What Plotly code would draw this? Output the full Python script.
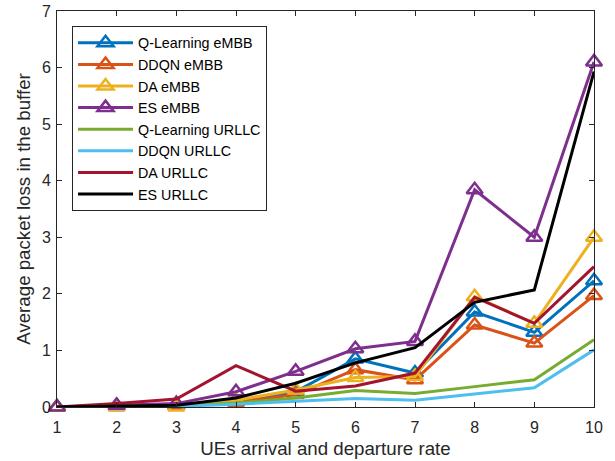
import plotly.graph_objects as go

x_vals = [1, 2, 3, 4, 5, 6, 7, 8, 9, 10]

q_embb = [0, 0.01, 0.02, 0.10, 0.27, 0.85, 0.60, 1.68, 1.32, 2.23]
ddqn_embb = [0, 0.01, 0.02, 0.08, 0.22, 0.66, 0.48, 1.45, 1.13, 1.97]
da_embb = [0, 0.01, 0.00, 0.12, 0.30, 0.52, 0.54, 1.95, 1.48, 3.00]
es_embb = [0, 0.03, 0.06, 0.27, 0.63, 1.03, 1.16, 3.84, 3.00, 6.10]
q_urllc = [0, 0.01, 0.02, 0.07, 0.16, 0.29, 0.24, 0.36, 0.48, 1.19]
ddqn_urllc = [0, 0.00, 0.01, 0.05, 0.10, 0.15, 0.12, 0.23, 0.34, 1.01]
da_urllc = [0, 0.06, 0.14, 0.73, 0.28, 0.37, 0.60, 1.94, 1.48, 2.48]
es_urllc = [0, 0.01, 0.03, 0.16, 0.42, 0.78, 1.05, 1.85, 2.07, 5.93]

series = [
    ("Q-Learning eMBB", q_embb, "#0072BD", True),
    ("DDQN eMBB", ddqn_embb, "#D95319", True),
    ("DA eMBB", da_embb, "#EDB120", True),
    ("ES eMBB", es_embb, "#7E2F8E", True),
    ("Q-Learning URLLC", q_urllc, "#77AC30", False),
    ("DDQN URLLC", ddqn_urllc, "#4DBEEE", False),
    ("DA URLLC", da_urllc, "#A2142F", False),
    ("ES URLLC", es_urllc, "#000000", False),
]

fig = go.Figure()
for name, vals, color, has_marker in series:
    fig.add_trace(go.Scatter(
        x=x_vals, y=vals, name=name,
        mode="lines+markers" if has_marker else "lines",
        line=dict(color=color, width=3),
        marker=dict(symbol="triangle-up-open", size=14,
                    line=dict(color=color, width=2.5)),
        cliponaxis=False,
    ))

axis_common = dict(
    showgrid=False, zeroline=False, showline=True, linecolor="#262626",
    linewidth=1, mirror="ticks", ticks="inside", ticklen=5,
    tickcolor="#262626", tickfont=dict(size=16, color="#262626"),
    automargin=False,
)

fig.update_layout(
    width=615, height=461,
    margin=dict(l=57, r=21, t=11, b=54),
    paper_bgcolor="white", plot_bgcolor="white",
    font=dict(family="Liberation Sans, Arial, sans-serif", color="#262626"),
    xaxis=dict(range=[1, 10], tickmode="array", tickvals=x_vals,
               ticklabelstandoff=6,
               title=dict(text="UEs arrival and departure rate",
                          font=dict(size=18.7), standoff=6),
               **axis_common),
    yaxis=dict(range=[0, 7], tickmode="array", tickvals=[0, 1, 2, 3, 4, 5, 6, 7],
               ticklabelstandoff=2,
               title=dict(text="Average packet loss in the buffer",
                          font=dict(size=18.7), standoff=6),
               **axis_common),
    legend=dict(x=0.028, y=0.962, xanchor="left", yanchor="top",
                bgcolor="white", bordercolor="#262626", borderwidth=1,
                font=dict(size=14.3, color="#000000"), itemwidth=55,
                tracegroupgap=0),
    showlegend=True,
)

fig.write_html("out.html")
